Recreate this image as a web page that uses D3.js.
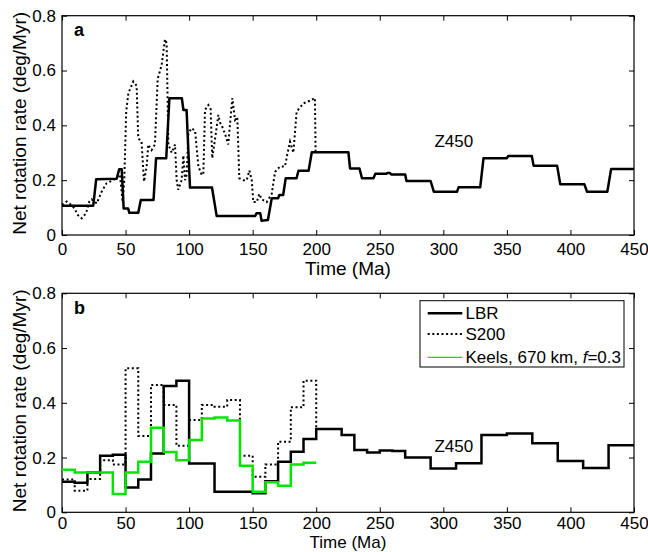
<!DOCTYPE html>
<html><head><meta charset="utf-8">
<script src="https://cdn.jsdelivr.net/npm/d3@7"></script>
<style>body{margin:0;background:#fff}svg{display:block}text{font-family:"Liberation Sans",Arial,sans-serif}</style>
</head><body>
<script>
// ---------- DATA ----------
const xTicks = [0,50,100,150,200,250,300,350,400,450];
const yTicks = [0,0.2,0.4,0.6,0.8];
// Panel a: LBR / Z450 (solid) [time, rate]
const lbrA = [[0,0.107],[24.6,0.107],[26.9,0.203],[43,0.205],[45,0.24],[47,0.24],[48.5,0.097],[52,0.097],[53,0.081],[60,0.081],[62,0.128],[72,0.128],[74,0.28],[82,0.28],[84.5,0.499],[94.3,0.499],[95.5,0.456],[98,0.456],[100.7,0.173],[118,0.173],[121.7,0.069],[152,0.069],[153,0.079],[156,0.079],[157,0.052],[162,0.055],[165,0.134],[170,0.134],[171,0.146],[174,0.146],[176,0.207],[184.5,0.207],[186,0.234],[194,0.234],[196.5,0.302],[225.3,0.302],[226.6,0.243],[234,0.243],[236,0.207],[245,0.207],[246.5,0.223],[255,0.223],[256,0.226],[258,0.226],[259,0.221],[270,0.221],[271,0.197],[290,0.197],[292.5,0.158],[310.8,0.158],[312,0.174],[329,0.174],[331.6,0.28],[350,0.28],[351,0.288],[369.6,0.288],[371,0.253],[389.5,0.253],[392,0.185],[411,0.185],[413,0.158],[429,0.158],[432,0.241],[450,0.241]];
// Panel a: S200 (dotted)
const s200A = [[0,0.11],[3.7,0.122],[6,0.115],[9.9,0.097],[12.4,0.073],[15.5,0.061],[18.9,0.079],[21.5,0.122],[23.3,0.13],[25,0.125],[27.3,0.115],[31.2,0.158],[35.1,0.189],[40.3,0.2],[43,0.21],[45.6,0.22],[47.7,0.12],[49,0.2],[50.5,0.45],[52.2,0.517],[56.1,0.56],[58.7,0.545],[60,0.353],[62.6,0.34],[64.5,0.195],[66.6,0.25],[67.9,0.33],[70.5,0.31],[73.1,0.33],[75.3,0.57],[78.4,0.62],[81,0.714],[82.3,0.7],[83.7,0.33],[86.3,0.3],[88.9,0.33],[90.2,0.2],[91.5,0.165],[94.1,0.2],[95.5,0.29],[96.8,0.2],[98.1,0.22],[99.4,0.371],[102,0.39],[104.7,0.38],[107.3,0.25],[109.9,0.22],[111.2,0.22],[112.5,0.456],[115.1,0.474],[116.9,0.46],[118.2,0.28],[120.4,0.35],[123,0.438],[124.3,0.41],[125.6,0.4],[128.2,0.37],[130.8,0.33],[132.1,0.4],[134,0.499],[136.1,0.42],[137.9,0.43],[139.5,0.207],[142.6,0.2],[145.3,0.2],[147.4,0.235],[149.3,0.2],[150.5,0.12],[153.2,0.12],[155.2,0.15],[157.1,0.13],[161,0.12],[165,0.15],[167.6,0.23],[171.5,0.25],[175.4,0.25],[177.5,0.3],[179.4,0.34],[182,0.3],[184.6,0.45],[189.9,0.48],[195.1,0.49],[199,0.5],[199.5,0.3]];
// Panel b: 10-Myr step series (value for bin starting at 0,10,20,...)
const lbrB = [0.112,0.108,0.145,0.207,0.21,0.091,0.12,0.215,0.461,0.481,0.178,0.178,0.075,0.075,0.075,0.07,0.113,0.185,0.221,0.268,0.304,0.304,0.282,0.228,0.218,0.226,0.224,0.2,0.2,0.16,0.16,0.179,0.179,0.282,0.282,0.288,0.288,0.252,0.252,0.187,0.187,0.162,0.162,0.245,0.245];
const s200B = [0.12,0.079,0.122,0.19,0.175,0.526,0.279,0.465,0.392,0.243,0.337,0.392,0.386,0.41,0.207,0.13,0.175,0.258,0.384,0.481];
const keelsB = [0.155,0.145,0.145,0.145,0.067,0.145,0.185,0.309,0.22,0.19,0.264,0.343,0.346,0.335,0.17,0.075,0.11,0.097,0.175,0.181];
const legendLabels = ["LBR","S200","Keels, 670 km, "];

// ---------- LAYOUT ----------
const W=648,H=552;
const svg=d3.select("body").append("svg").attr("width",W).attr("height",H);
const x=d3.scaleLinear().domain([0,450]).range([62,634]);
const panels=[{top:15.7,bot:235,label:"a",tOff:40,lOff:20,tSize:19},{top:293.3,bot:512.3,label:"b",tOff:35.5,lOff:16.5,tSize:17}];
const green="#00e600";

function stepPts(vals,end){const p=vals.map((v,i)=>[i*10,v]);p.push([end,vals[vals.length-1]]);return p;}

panels.forEach((P,pi)=>{
  const y=d3.scaleLinear().domain([0,0.8]).range([P.bot,P.top]);
  const g=svg.append("g");
  g.append("rect").attr("x",x(0)).attr("y",y(0.8)).attr("width",x(450)-x(0)).attr("height",y(0)-y(0.8))
    .attr("fill","none").attr("stroke","#000").attr("stroke-width",1.2);
  const ax=g.append("g").attr("transform",`translate(0,${y(0)})`)
    .call(d3.axisBottom(x).tickValues(xTicks).tickSize(-5).tickPadding(0).tickFormat(d3.format("d")));
  ax.selectAll("text").attr("dy",null).attr("y",P.lOff);
  const axT=g.append("g").attr("transform",`translate(0,${y(0.8)})`)
    .call(d3.axisTop(x).tickValues(xTicks).tickSize(-5).tickFormat(""));
  const ay=g.append("g").attr("transform",`translate(${x(0)},0)`)
    .call(d3.axisLeft(y).tickValues(yTicks).tickSize(-5).tickPadding(6).tickFormat(d=>d===0?"0":d3.format(".1f")(d)));
  const ayR=g.append("g").attr("transform",`translate(${x(450)},0)`)
    .call(d3.axisRight(y).tickValues(yTicks).tickSize(-5).tickFormat(""));
  [ax,axT,ay,ayR].forEach(a=>{a.select(".domain").remove();a.selectAll("line").attr("stroke","#000").attr("stroke-width",1);
    a.selectAll("text").attr("font-size",17).attr("fill","#000").style("font-family","Liberation Sans, Arial, sans-serif");});
  g.append("text").attr("x",(x(0)+x(450))/2).attr("y",y(0)+P.tOff).attr("text-anchor","middle").attr("font-size",P.tSize).text("Time (Ma)");
  g.append("text").attr("transform",`translate(25.5,${(y(0)+y(0.8))/2-2}) rotate(-90)`).attr("text-anchor","middle").attr("font-size",19).text("Net rotation rate (deg/Myr)");
  g.append("text").attr("x",x(0)+12).attr("y",y(0.8)+20.5).attr("font-size",18).attr("font-weight","bold").text(P.label);

  const lineL=d3.line().x(d=>x(d[0])).y(d=>y(d[1]));
  const lineS=d3.line().x(d=>x(d[0])).y(d=>y(d[1])).curve(d3.curveStepAfter);
  if(pi===0){
    g.append("path").datum(s200A).attr("d",lineL).attr("fill","none").attr("stroke","#000").attr("stroke-width",2).attr("stroke-dasharray","2,2.6");
    g.append("path").datum(lbrA).attr("d",lineL).attr("fill","none").attr("stroke","#000").attr("stroke-width",2.5).attr("stroke-linejoin","round");
    g.append("text").attr("x",x(293)).attr("y",y(0.3)-6).attr("font-size",17).text("Z450");
  } else {
    const sp=stepPts(s200B,200); sp.push([200,lbrB[20]]);
    g.append("path").datum(sp).attr("d",lineS).attr("fill","none").attr("stroke","#000").attr("stroke-width",2).attr("stroke-dasharray","2,2.6");
    g.append("path").datum(stepPts(lbrB,450)).attr("d",lineS).attr("fill","none").attr("stroke","#000").attr("stroke-width",2.5);
    g.append("path").datum(stepPts(keelsB,200)).attr("d",lineS).attr("fill","none").attr("stroke",green).attr("stroke-width",2.5);
    g.append("text").attr("x",x(293)).attr("y",y(0.2)-6).attr("font-size",17).text("Z450");
    const lg=g.append("g");
    lg.append("rect").attr("x",420).attr("y",300.7).attr("width",204).attr("height",66.3).attr("fill","#fff").attr("stroke","#000").attr("stroke-width",1);
    const ly=[313.3,334,357.3];
    const styles=[{c:"#000",w:2.5,d:null},{c:"#000",w:2,d:"2,2.6"},{c:green,w:1.2,d:null}];
    ly.forEach((yy,i)=>{
      const l=lg.append("line").attr("x1",427.7).attr("x2",462.3).attr("y1",yy).attr("y2",yy).attr("stroke",styles[i].c).attr("stroke-width",styles[i].w);
      if(styles[i].d) l.attr("stroke-dasharray",styles[i].d);
      const t=lg.append("text").attr("x",465.5).attr("y",yy+6).attr("font-size",17).text(legendLabels[i]);
      if(i===2){t.append("tspan").attr("font-style","italic").text("f");t.append("tspan").text("=0.3");}
    });
  }
});
</script>
</body></html>
